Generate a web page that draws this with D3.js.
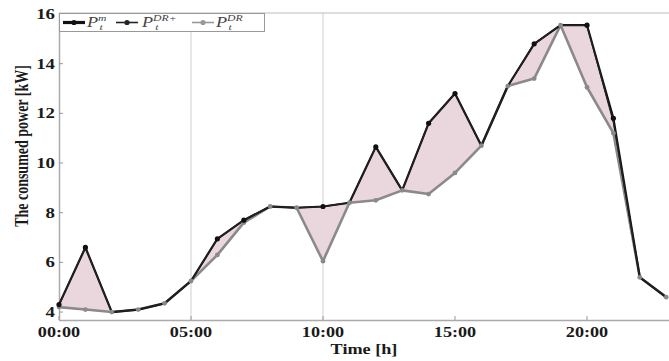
<!DOCTYPE html>
<html><head><meta charset="utf-8">
<script src="https://cdn.jsdelivr.net/npm/d3@7"></script>
<style>body{margin:0;background:#fff}svg{display:block}</style>
</head><body>
<svg id="c" width="669" height="361"></svg>
<script>
const hours = d3.range(0, 24);
const pM   = [4.3,6.6,4.0,4.1,4.35,5.25,6.95,7.7,8.25,8.2,8.25,8.4,10.65,8.9,11.6,12.8,10.7,13.1,14.8,15.55,15.55,11.8,5.4,4.6];
const pDRp = [4.3,6.6,4.0,4.1,4.35,5.25,6.95,7.7,8.25,8.2,8.25,8.4,10.65,8.9,11.6,12.8,10.7,13.1,14.8,15.55,15.55,11.65,5.4,4.6];
const pDR  = [4.2,4.1,4.0,4.1,4.35,5.25,6.3,7.6,8.25,8.2,6.05,8.4,8.5,8.9,8.75,9.6,10.7,13.1,13.4,15.55,13.05,11.2,5.4,4.6];
const yTicks = [4,6,8,10,12,14,16];
const xTicks = [0,5,10,15,20];
const xTickLabels = ["00:00","05:00","10:00","15:00","20:00"];
const gridHours = [5,10];

const svg = d3.select("#c");
const x = d3.scaleLinear().domain([0,24]).range([59, 59+24*26.4]);
const y = d3.scaleLinear().domain([3.68,16]).range([320,14]);
const font = "'Liberation Serif', 'DejaVu Serif', serif";
const SX = 1.3;

function stext(px, py, str, anchor, size, opts={}) {
  const g = svg.append("g").attr("transform", `translate(${px},${py}) scale(${SX},1)`);
  const t = g.append("text").attr("text-anchor", anchor).attr("font-family", font)
    .attr("font-weight", opts.weight || "bold").attr("font-size", size).attr("fill", opts.fill || "#1a1a1a");
  if (opts.dy) t.attr("dy", opts.dy);
  t.text(str);
  return t;
}

// grid
svg.selectAll(".grid").data(gridHours).join("line")
  .attr("x1", d=>x(d)).attr("x2", d=>x(d)).attr("y1", 13).attr("y2", 320)
  .attr("stroke", "#cfcfcf").attr("stroke-width", 1);

// frame
svg.append("line").attr("x1",59).attr("x2",669).attr("y1",13).attr("y2",13).attr("stroke","#bbb");
svg.append("line").attr("x1",59).attr("x2",669).attr("y1",320.5).attr("y2",320.5).attr("stroke","#aaa").attr("stroke-width",1.5);
svg.append("line").attr("x1",59.5).attr("x2",59.5).attr("y1",13).attr("y2",320).attr("stroke","#aaa").attr("stroke-width",1.5);

// y ticks
yTicks.forEach(t=>{
  svg.append("line").attr("x1",59).attr("x2",63).attr("y1",y(t)).attr("y2",y(t)).attr("stroke","#999");
  stext(55, y(t), String(t), "end", 14.5, {dy:"0.35em"});
});
// x ticks
xTicks.forEach((t,i)=>{
  svg.append("line").attr("x1",x(t)).attr("x2",x(t)).attr("y1",316).attr("y2",320).attr("stroke","#999");
  stext(x(t), 337, xTickLabels[i], "middle", 14);
});
stext(364, 354, "Time [h]", "middle", 14);
svg.append("g").attr("transform","translate(28,146) rotate(-90) scale(1,1.3)")
  .append("text").attr("text-anchor","middle")
  .attr("font-family",font).attr("font-weight","bold").attr("font-size",14).attr("fill","#1a1a1a").text("The consumed power [kW]");

// fill area between
const area = d3.area().x((d,i)=>x(hours[i])).y0((d,i)=>y(pDR[i])).y1((d,i)=>y(pM[i]));
svg.append("path").datum(pM).attr("d", area).attr("fill","#ead6dd").attr("stroke","none");

const line = d3.line().x((d,i)=>x(hours[i])).y(d=>y(d));
svg.append("path").datum(pDR).attr("d", line).attr("fill","none").attr("stroke","#8a8a8a").attr("stroke-width",2.6).attr("stroke-linejoin","round");
svg.append("path").datum(pM).attr("d", line).attr("fill","none").attr("stroke","#111").attr("stroke-width",2.2).attr("stroke-linejoin","round");
svg.append("path").datum(pDRp).attr("d", line).attr("fill","none").attr("stroke","#222").attr("stroke-width",1.4).attr("stroke-linejoin","round");

svg.selectAll(".mg").data(pDR).join("circle").attr("cx",(d,i)=>x(hours[i])).attr("cy",d=>y(d)).attr("r",2.4).attr("fill","#8a8a8a");
svg.selectAll(".mb").data(pM).join("circle").attr("cx",(d,i)=>x(hours[i])).attr("cy",d=>y(d)).attr("r",2.6)
  .attr("fill",(d,i)=>pM[i]===pDR[i]?"none":"#111");

// legend
const lg = svg.append("g");
lg.append("rect").attr("x",59.5).attr("y",13.5).attr("width",205).attr("height",18).attr("fill","#fff").attr("stroke","#999");
const entries = [
  {lbl:"P", sup:"m", sub:"t", x0:63, col:"#111", w:3.2, tx:87},
  {lbl:"P", sup:"DR+", sub:"t", x0:116, col:"#222", w:1.6, tx:142},
  {lbl:"P", sup:"DR", sub:"t", x0:192, col:"#999", w:1.6, tx:216}
];
entries.forEach(e=>{
  lg.append("line").attr("x1",e.x0).attr("x2",e.x0+22).attr("y1",22.5).attr("y2",22.5).attr("stroke",e.col).attr("stroke-width",e.w);
  lg.append("circle").attr("cx",e.x0+11).attr("cy",22.5).attr("r",2.6).attr("fill",e.col);
  const g = lg.append("g").attr("transform",`translate(${e.tx},27) scale(${SX},1)`);
  const t = g.append("text").attr("font-family",font).attr("font-style","italic").attr("font-size",14).attr("fill","#444");
  t.append("tspan").text(e.lbl);
  t.append("tspan").attr("dy",-6).attr("font-size",9).text(e.sup);
  t.append("tspan").attr("dx",-(e.sup.length*5.5)).attr("dy",9).attr("font-size",9).text(e.sub);
});
</script>
</body></html>
